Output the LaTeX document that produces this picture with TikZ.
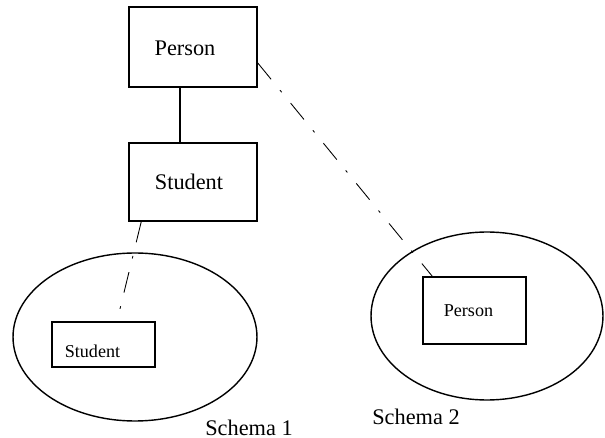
\documentclass[tikz,border=0pt]{standalone}
\usepackage{fontspec}
\setmainfont{Liberation Serif}
\usetikzlibrary{calc,shapes.geometric}

\begin{document}
\begin{tikzpicture}[
  x=0.02cm, y=-0.02cm,
  entity/.style={draw, line width=0.9pt, inner sep=0pt},
  schema/.style={draw, ellipse, line width=0.8pt, inner sep=0pt},
  link/.style={line width=0.5pt, dash pattern=on 12pt off 8pt on 1.5pt off 8pt},
  bigname/.style={font=\fontsize{12.7}{15}\selectfont, inner sep=0pt},
  smallname/.style={font=\fontsize{10.3}{12}\selectfont, inner sep=0pt},
]
\useasboundingbox (0,0) rectangle (605,438);
% global schema
\node[entity, minimum width=2.56cm, minimum height=1.6cm] (person) at (193,47) {};
\node[bigname] (persontxt) at ($(person.center)+(-8,1)$) {Person};
\node[entity, minimum width=2.56cm, minimum height=1.56cm] (student) at (193,182) {};
\node[bigname] (studenttxt) at ($(student.center)+(-4,0)$) {Student};
\draw[line width=0.9pt] ($(person.south)+(-13,0)$) -- ($(student.north)+(-13,0)$);
% schema 1
\node[schema, minimum width=4.88cm, minimum height=3.36cm] (schemaA) at (135,337) {};
\node[entity, minimum width=2.06cm, minimum height=0.9cm] (stuA) at (103.5,344.5) {};
\node[smallname] (stuAtxt) at ($(stuA.center)+(-11,6.5)$) {Student};
\node[bigname] (schemaAtxt) at (249,428) {Schema 1};
% schema 2
\node[schema, minimum width=4.64cm, minimum height=3.36cm] (schemaB) at (487,316) {};
\node[entity, minimum width=2.06cm, minimum height=1.34cm] (perB) at (474.5,310.5) {};
\node[smallname] (perBtxt) at ($(perB.center)+(-6,0)$) {Person};
\node[bigname] (schemaBtxt) at (416,417) {Schema 2};
% correspondences
\draw[link] ($(student.south west)+(13,0)$) -- ($(stuA.north)+(13.5,0)$);
\draw[link] ($(person.east)+(0,16)$) -- ($(perB.north west)+(10,0)$);
\end{tikzpicture}
\end{document}
